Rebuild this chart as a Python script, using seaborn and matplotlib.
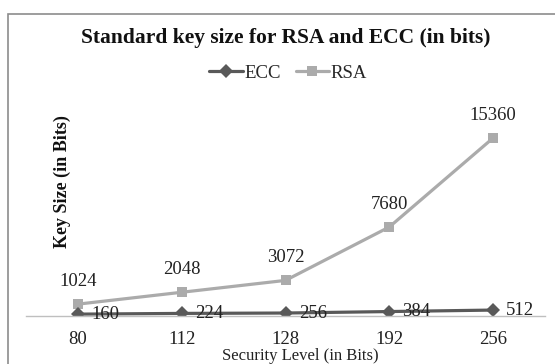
import matplotlib
matplotlib.use("Agg")
import matplotlib.pyplot as plt
from matplotlib.patches import Rectangle
import pandas as pd
import seaborn as sns

# Security levels and the matching key sizes (bits)
levels = ["80", "112", "128", "192", "256"]
ecc_bits = [160, 224, 256, 384, 512]
rsa_bits = [1024, 2048, 3072, 7680, 15360]

df = pd.concat([
    pd.DataFrame({"level": levels, "bits": ecc_bits, "alg": "ECC"}),
    pd.DataFrame({"level": levels, "bits": rsa_bits, "alg": "RSA"}),
], ignore_index=True)

sns.set_theme(style="white")
plt.rcParams["font.family"] = ["Liberation Serif", "DejaVu Serif"]

colors = {"ECC": "#595959", "RSA": "#ABABAB"}

fig = plt.figure(figsize=(5.55, 3.64), dpi=100)
ax = fig.add_axes([26 / 555, 48 / 364, 519 / 555, 208.6 / 364])

sns.lineplot(data=df, x="level", y="bits", hue="alg", style="alg",
             palette=colors, markers={"ECC": "D", "RSA": "s"},
             dashes=False, linewidth=2.3, markersize=7.5,
             markeredgewidth=0, hue_order=["RSA", "ECC"],
             style_order=["RSA", "ECC"], ax=ax)

ax.set_xlim(-0.5, len(levels) - 0.5)
ax.set_ylim(0, 18000)
ax.set_yticks([])
ax.set_xlabel("")
ax.set_ylabel("")
for side in ("left", "right", "top"):
    ax.spines[side].set_visible(False)
ax.spines["bottom"].set_color("#BFBFBF")
ax.spines["bottom"].set_linewidth(1.0)
ax.tick_params(axis="x", length=0, pad=10.5, labelsize=13.5, colors="#222222")

# value labels
for i, v in enumerate(rsa_bits):
    ax.annotate(str(v), (i, v), xytext=(0, 16.5), textcoords="offset points",
                ha="center", va="center", fontsize=13.5, color="#222222")
for i, v in enumerate(ecc_bits):
    ax.annotate(str(v), (i, v), xytext=(9.5, 0), textcoords="offset points",
                ha="left", va="center", fontsize=13.5, color="#222222")

# legend: ECC first, compact row under the title
leg = ax.get_legend()
handles = list(leg.legend_handles)
labels = [t.get_text() for t in leg.texts]
leg.remove()
order = [labels.index("ECC"), labels.index("RSA")]
ax.legend([handles[k] for k in order], [labels[k] for k in order],
          loc="center", bbox_to_anchor=(288 / 555, 1 - 73 / 364),
          bbox_transform=fig.transFigure, ncol=2, frameon=False,
          fontsize=13.5, handlelength=1.8, handletextpad=0.05,
          columnspacing=0.8, borderpad=0)

fig.text(286 / 555, 1 - 38 / 364, "Standard key size for RSA and ECC (in bits)",
         ha="center", va="center", fontsize=15.5, fontweight="bold",
         color="#111111")
fig.text(62 / 555, 1 - 182 / 364, "Key Size (in Bits)", rotation=90,
         ha="center", va="center", fontsize=13, fontweight="bold",
         color="#111111")
fig.text(300 / 555, 1 - 356 / 364, "Security Level (in Bits)",
         ha="center", va="center", fontsize=12, color="#222222")

# chart frame
fig.patches.append(Rectangle((7.5 / 555, -0.1), 1.2, 1 - 13.5 / 364 + 0.1,
                             transform=fig.transFigure, fill=False,
                             edgecolor="#8C8C8C", linewidth=1.2))

fig.savefig("out.png", dpi=100)
